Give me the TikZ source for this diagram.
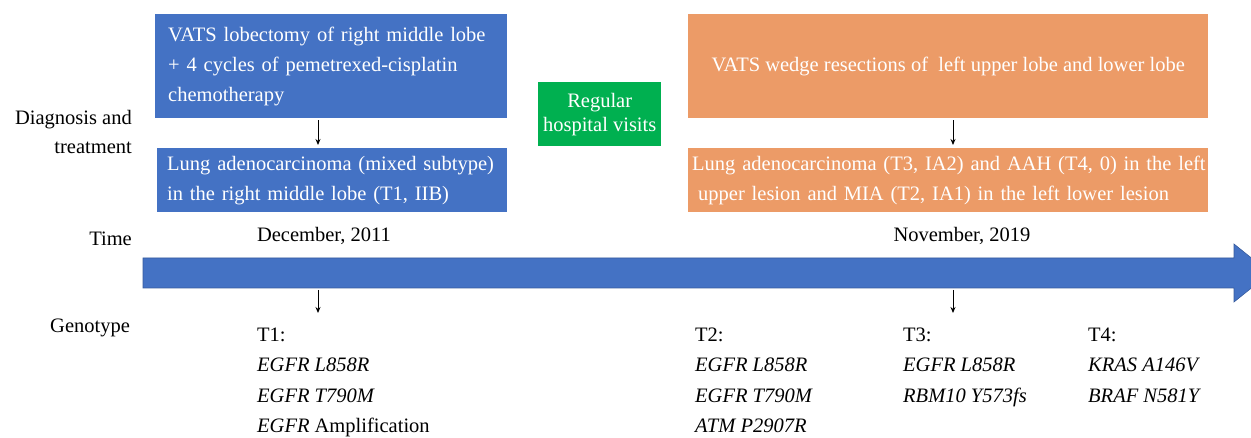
\documentclass[tikz,border=0pt]{standalone}
\usepackage{fontspec}
\setmainfont{Liberation Serif}
\usetikzlibrary{arrows.meta,calc}
\definecolor{boxblue}{HTML}{4472C4}
\definecolor{boxorange}{HTML}{EC9B67}
\definecolor{boxgreen}{HTML}{00B050}
\begin{document}
\begin{tikzpicture}[x=1pt,y=-1pt,
  txt/.style={inner sep=0pt, font=\fontsize{20.5}{30}\selectfont},
  box/.style={txt, text=white, anchor=north west, inner ysep=0pt},
  bluebox/.style={box, fill=boxblue, align=left},
  orangebox/.style={box, fill=boxorange},
  greenbox/.style={box, fill=boxgreen, align=center, font=\fontsize{20.5}{24}\selectfont},
  gen/.style={txt, align=left, anchor=north west, font=\fontsize{20.5}{30.5}\selectfont},
  arr/.style={-{Stealth[length=6pt,width=5pt]}, line width=0.9pt, black},
  bar/.style={fill=boxblue, draw=boxblue!80!black, line width=0.6pt}
]
\clip (0,0) rectangle (1251,438);
\fill[white] (0,0) rectangle (1251,438);

% left labels
\node[txt, align=right, anchor=east, font=\fontsize{20.5}{29}\selectfont] (dx) at (132,132) {Diagnosis and\\treatment};
\node[txt, anchor=east] (tm) at (132,239) {Time};
\node[txt, anchor=west] (gt) at (50,328) {Genotype};

% boxes
\node[bluebox, text width=326pt, inner xsep=13pt, minimum height=104pt] (b1) at (155,14)
  {VATS lobectomy of right middle lobe\\+ 4 cycles of pemetrexed-cisplatin\\chemotherapy};
\node[bluebox, text width=330pt, inner xsep=10pt, minimum height=64pt] (b2) at (157,148)
  {Lung adenocarcinoma (mixed subtype)\\in the right middle lobe (T1, IIB)};
\node[greenbox, minimum width=123pt, minimum height=64pt] (g) at (538,82)
  {Regular\\hospital visits};
\node[orangebox, align=center, minimum width=520pt, minimum height=104pt] (o1) at (688,14)
  {VATS wedge resections of \ left upper lobe and lower lobe};
\node[orangebox, align=left, text width=512pt, inner xsep=4pt, minimum height=64pt] (o2) at (688,148)
  {\mbox{Lung adenocarcinoma (T3, IA2) and AAH (T4, 0) in the left}\\\mbox{\hspace*{6pt}upper lesion and MIA (T2, IA1) in the left lower lesion}};

% dates
\node[txt] (d1) at (324,236) {December, 2011};
\node[txt] (d2) at (962,236) {November, 2019};

% timeline bar
\path[bar] (143,258) -- (1234,258) -- (1234,244) -- (1270,273) -- (1234,302) -- (1234,288) -- (143,288) -- cycle;

% arrow positions
\coordinate (a1) at (318,290);
\coordinate (a1e) at (318,313);
\coordinate (a2) at (953,290);
\coordinate (a2e) at (953,313);

\draw[arr, shorten <=2pt, shorten >=3pt] (b1.south -| a1) -- (b2.north -| a1);
\draw[arr, shorten <=2pt, shorten >=3pt] (o1.south -| a2) -- (o2.north -| a2);
\draw[arr] (a1) -- (a1e);
\draw[arr] (a2) -- (a2e);

% genotypes
\node[gen] (t1) at (257,327.5) {T1:\\\textit{EGFR L858R}\\\textit{EGFR T790M}\\\textit{EGFR} Amplification};
\node[gen] (t2) at (695,327.5) {T2:\\\textit{EGFR L858R}\\\textit{EGFR T790M}\\\textit{ATM P2907R}};
\node[gen] (t3) at (903,327.5) {T3:\\\textit{EGFR L858R}\\\textit{RBM10 Y573fs}};
\node[gen] (t4) at (1088,327.5) {T4:\\\textit{KRAS A146V}\\\textit{BRAF N581Y}};
\end{tikzpicture}
\end{document}
